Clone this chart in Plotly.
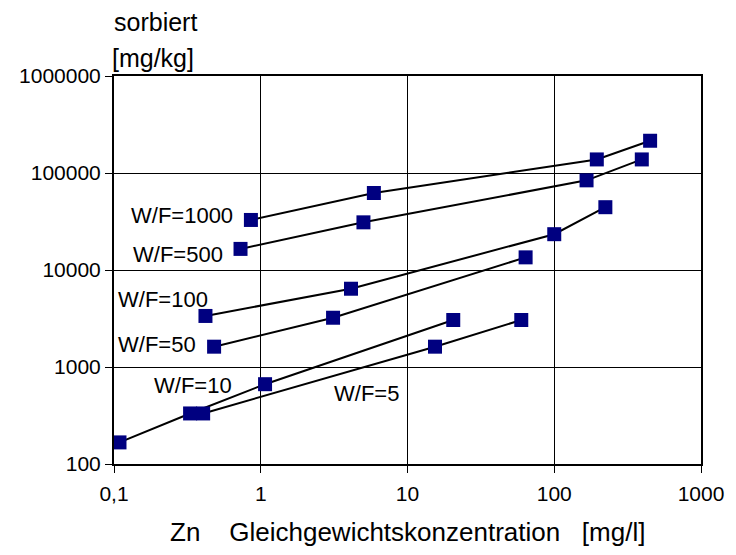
import plotly.graph_objects as go

# Zn sorption isotherms for different water/solid ratios (W/F)
wf1000_x = [0.857, 5.9, 195, 450]
wf1000_y = [32800, 62200, 138000, 215000]
wf500_x = [0.728, 5.01, 166, 395]
wf500_y = [16500, 31000, 84000, 138000]
wf100_x = [0.42, 4.12, 100, 223]
wf100_y = [3360, 6410, 23400, 44400]
wf50_x = [0.481, 3.11, 63.8]
wf50_y = [1620, 3220, 13500]
wf10_x = [0.109, 0.33, 1.07, 20.5]
wf10_y = [167, 332, 665, 3050]
wf5_x = [0.405, 15.4, 59.6]
wf5_y = [332, 1620, 3050]

series_names = ["W/F=1000", "W/F=500", "W/F=100", "W/F=50", "W/F=10", "W/F=5"]
series_x = [wf1000_x, wf500_x, wf100_x, wf50_x, wf10_x, wf5_x]
series_y = [wf1000_y, wf500_y, wf100_y, wf50_y, wf10_y, wf5_y]

# label anchor points (log10 units on both axes)
label_lx = [-0.537, -0.564, -0.664, -0.705, -0.463, 0.718]
label_ly = [4.557, 4.156, 3.692, 3.229, 2.806, 2.724]

x_ticks = [0.1, 1, 10, 100, 1000]
x_ticktext = ["0,1", "1", "10", "100", "1000"]
y_ticks = [100, 1000, 10000, 100000, 1000000]
y_ticktext = ["100", "1000", "10000", "100000", "1000000"]

FONT = "Liberation Sans, Arial, sans-serif"
NB = "\u00a0"

fig = go.Figure()
for name, xs, ys in zip(series_names, series_x, series_y):
    fig.add_trace(go.Scatter(
        x=xs, y=ys, name=name, mode="lines+markers",
        line=dict(color="black", width=2),
        marker=dict(symbol="square", size=14, color="#000080"),
        cliponaxis=False,
    ))

for name, lx, ly in zip(series_names, label_lx, label_ly):
    fig.add_annotation(x=lx, y=ly, xref="x", yref="y", text=name,
                       showarrow=False, xanchor="center", yanchor="middle",
                       font=dict(family=FONT, size=22, color="black"))

fig.add_annotation(x=112, y=22, xref="paper", yref="paper", text="sorbiert",
                   showarrow=False, xanchor="left", yanchor="middle",
                   font=dict(family=FONT, size=25, color="black"))
fig.add_annotation(x=110, y=58, xref="paper", yref="paper", text="[mg/kg]",
                   showarrow=False, xanchor="left", yanchor="middle",
                   font=dict(family=FONT, size=25, color="black"))
fig.add_annotation(x=412, y=532, xref="paper", yref="paper",
                   text="Zn" + NB * 4 + "Gleichgewichtskonzentration" + NB * 3 + "[mg/l]",
                   showarrow=False, xanchor="center", yanchor="middle",
                   font=dict(family=FONT, size=26, color="black"))

W, H = 736, 555
ML, MR, MT, MB = 114, 26, 76, 91
# convert pixel positions of the text labels into paper fractions
for ann in fig.layout.annotations:
    if ann.xref == "paper":
        ann.x = (ann.x - ML) / (W - ML - MR)
        ann.y = 1 - (ann.y - MT) / (H - MT - MB)

axis_common = dict(
    type="log", showgrid=True, gridcolor="black", gridwidth=1,
    showline=True, linecolor="black", linewidth=2, mirror=True,
    ticks="outside", ticklen=7, tickcolor="black", tickwidth=1,
    tickfont=dict(family=FONT, size=21, color="black"),
    zeroline=False,
)
fig.update_xaxes(range=[-1, 3], tickvals=x_ticks, ticktext=x_ticktext,
                 ticklabelstandoff=3, **axis_common)
fig.update_yaxes(range=[2, 6], tickvals=y_ticks, ticktext=y_ticktext, **axis_common)

fig.update_layout(
    width=W, height=H,
    margin=dict(l=ML, r=MR, t=MT, b=MB),
    paper_bgcolor="white", plot_bgcolor="white",
    showlegend=False,
)

fig.write_html("out.html")
